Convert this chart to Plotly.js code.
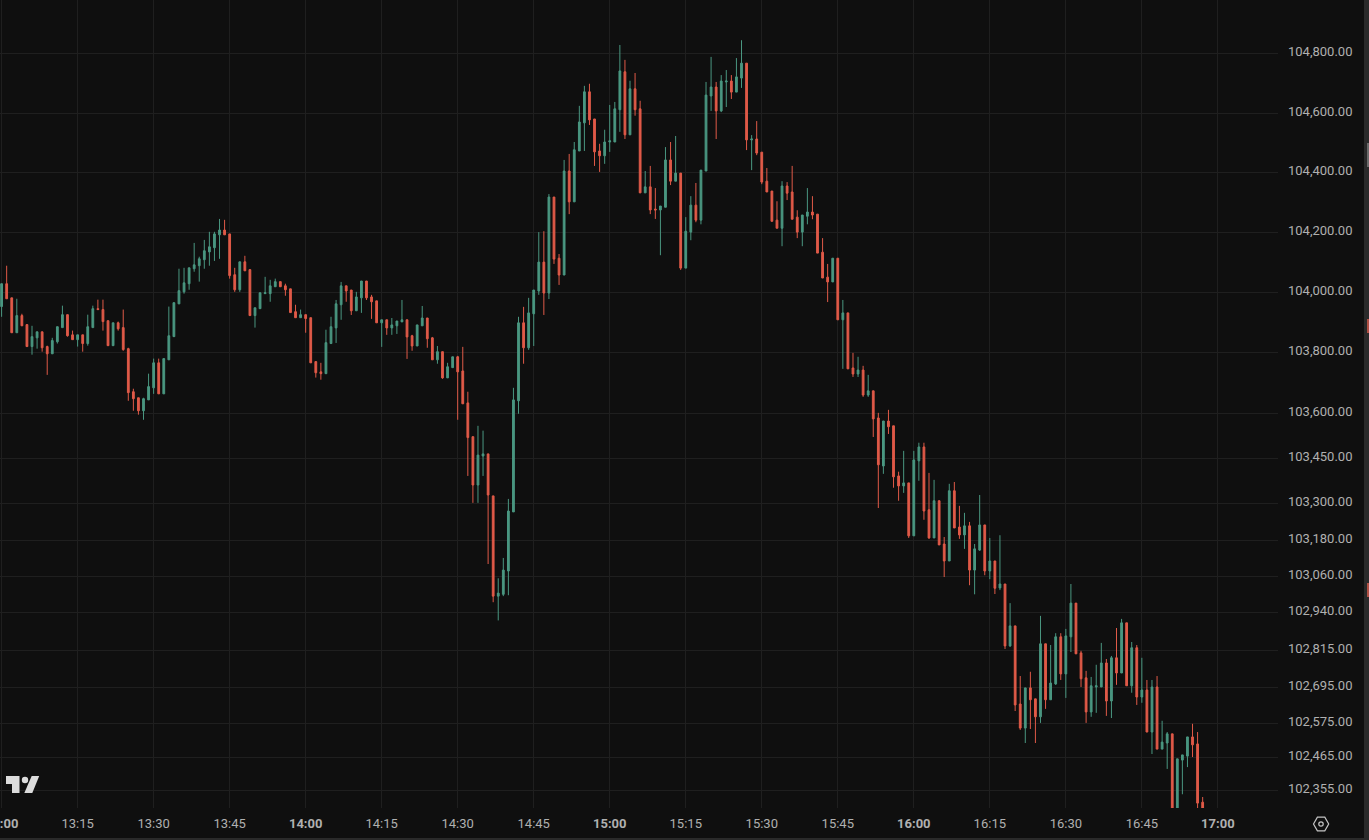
<!DOCTYPE html>
<html>
<head>
<meta charset="utf-8">
<script src="https://cdn.plot.ly/plotly-3.0.1.min.js"></script>
<style>html,body{margin:0;padding:0;background:#0f0f0f;overflow:hidden}#chart{width:1369px;height:840px}</style>
</head>
<body>
<div id="chart"></div>
<script>
const openPrices = [
103954,104030,103983,103867,103924,103894,103821,103850,103870,103821,
103797,103837,103884,103927,103860,103844,103860,103831,103884,103947,
103944,103907,103824,103900,103884,103814,103671,103651,103608,103644,
103684,103767,103664,103777,103854,103963,104003,104030,104080,104090,
104110,104136,104150,104193,104209,104196,104060,104010,104103,104077,
103924,103947,103997,103997,104020,104037,104023,104013,103937,103917,
103927,103917,103771,103737,103731,103831,103883,103960,104023,104009,
103940,103983,104039,103986,103973,103900,103910,103883,103890,103903,
103910,103857,103823,103890,103916,103850,103777,103804,103717,103751,
103787,103740,103634,103522,103362,103458,103465,103326,102995,103001,
103078,103273,103641,103900,103817,103930,104006,104102,103999,104319,
104115,104059,104406,104303,104473,104567,104671,104580,104473,104457,
104503,104503,104611,104738,104527,104681,104614,104333,104353,104279,
104276,104285,104443,104372,104399,104082,104202,104292,104242,104406,
104657,104687,104607,104704,104707,104670,104717,104767,104510,104513,
104469,104372,104339,104242,104215,104356,104336,104252,104202,104255,
104269,104262,104135,104052,104036,104115,103910,103933,103750,103730,
103743,103660,103674,103584,103425,103574,103558,103392,103359,103369,
103194,103442,103488,103280,103187,103310,103167,103111,103343,103223,
103197,103227,103081,103147,103230,103078,103111,103022,103035,102831,
102897,102640,102561,102693,102657,102598,102838,102654,102706,102861,
102739,102861,102972,102808,102726,102614,102696,102696,102775,102650,
102792,102742,102907,102700,102825,102663,102686,102548,102696,102492,
102512,102542,102285,102456,102469,102532,102509,102318];
const highPrices = [
104030,104090,103983,103980,103930,103894,103890,103870,103870,103824,
103850,103887,103957,103927,103874,103860,103860,103927,103957,103977,
103977,103907,103900,103904,103944,103817,103681,103651,103651,103731,
103781,103781,103781,103954,103967,104080,104083,104083,104166,104120,
104176,104203,104203,104246,104243,104196,104083,104103,104123,104077,
103950,104000,104053,104043,104047,104037,104030,104013,103960,103944,
103927,103917,103771,103767,103877,103920,103976,104036,104023,104009,
104003,104039,104039,103993,103973,103910,103910,103916,103906,103976,
103910,103860,103893,103956,103916,103853,103823,103804,103767,103787,
103790,103820,103671,103522,103558,103542,103465,103326,103054,103121,
103316,103684,103920,103953,103983,104009,104202,104205,104329,104319,
104129,104443,104463,104503,104624,104691,104698,104580,104497,104544,
104627,104637,104828,104778,104708,104734,104641,104406,104423,104349,
104289,104486,104503,104523,104399,104252,104322,104366,104409,104704,
104788,104704,104727,104744,104727,104784,104844,104767,104526,104573,
104469,104416,104339,104305,104372,104369,104423,104275,104259,104349,
104322,104262,104182,104096,104115,104115,103976,103933,103800,103787,
103757,103727,103674,103601,103574,103611,103558,103406,103475,103369,
103475,103502,103502,103402,103379,103310,103190,103366,103372,103293,
103270,103240,103167,103329,103230,103187,103111,103196,103035,102972,
102897,102732,102693,102746,102657,102930,102838,102834,102873,102873,
102887,103035,102972,102815,102749,102729,102769,102841,102788,102798,
102890,102920,102907,102844,102834,102792,102719,102719,102732,102585,
102548,102542,102460,102473,102532,102575,102548,102335];
const lowPrices = [
103920,103980,103867,103867,103890,103821,103794,103814,103804,103727,
103797,103831,103884,103854,103844,103821,103804,103824,103884,103944,
103874,103824,103824,103874,103807,103641,103608,103595,103578,103644,
103664,103664,103664,103777,103854,103963,103997,104010,104070,104037,
104080,104090,104106,104113,104193,104047,104003,104003,104073,103924,
103884,103947,103997,103970,104020,104020,103990,103934,103917,103917,
103867,103767,103718,103711,103731,103831,103833,103910,103970,103926,
103940,103933,103976,103913,103900,103820,103860,103860,103863,103903,
103780,103807,103823,103890,103817,103777,103764,103714,103717,103751,
103578,103631,103392,103303,103303,103392,103101,102975,102915,102995,
102998,103273,103598,103764,103810,103823,103993,103926,103979,104096,
104026,104059,104262,104303,104473,104473,104560,104423,104403,104430,
104470,104503,104537,104513,104527,104591,104333,104333,104262,104246,
104125,104285,104359,104372,104076,104082,104175,104235,104228,104406,
104607,104513,104603,104620,104647,104670,104684,104476,104409,104459,
104362,104336,104238,104215,104155,104309,104245,104182,104155,104228,
104245,104132,104049,103969,104036,103910,103747,103747,103720,103720,
103654,103654,103521,103286,103399,103531,103353,103310,103336,103187,
103194,103376,103247,103184,103187,103164,103058,103111,103220,103184,
103151,103031,103001,103144,103064,103051,103002,103015,102821,102828,
102617,102555,102512,102558,102512,102578,102624,102654,102703,102719,
102660,102811,102805,102696,102578,102598,102611,102696,102601,102594,
102703,102742,102700,102677,102637,102644,102548,102476,102492,102492,
102427,102285,102285,102344,102433,102466,102298,102295];
const closePrices = [
104030,103980,103867,103924,103890,103821,103854,103870,103817,103797,
103841,103887,103927,103857,103844,103860,103831,103887,103947,103944,
103904,103824,103900,103880,103811,103668,103648,103608,103648,103688,
103767,103664,103781,103857,103967,104007,104033,104083,104093,104113,
104140,104153,104196,104209,104193,104057,104010,104103,104073,103924,
103950,104000,104000,104023,104037,104020,104010,103934,103917,103927,
103914,103767,103734,103731,103834,103887,103963,104023,104006,103940,
103986,104039,103983,103970,103900,103910,103883,103893,103906,103910,
103853,103823,103893,103916,103847,103777,103804,103717,103754,103787,
103737,103631,103519,103362,103461,103465,103329,102995,103005,103081,
103276,103644,103900,103817,103933,104009,104102,103999,104319,104112,
104059,104406,104303,104477,104570,104671,104577,104470,104457,104503,
104507,104614,104741,104527,104681,104611,104333,104353,104276,104276,
104289,104443,104372,104399,104082,104205,104292,104242,104409,104660,
104687,104607,104707,104707,104670,104721,104767,104510,104513,104466,
104369,104336,104238,104215,104356,104332,104245,104202,104259,104269,
104259,104132,104049,104036,104115,103910,103933,103747,103730,103743,
103660,103674,103581,103429,103574,103555,103389,103359,103369,103194,
103445,103488,103276,103187,103310,103164,103111,103343,103220,103197,
103227,103081,103151,103230,103078,103111,103021,103035,102831,102897,
102637,102561,102693,102654,102598,102838,102654,102709,102861,102739,
102864,102972,102805,102723,102614,102700,102700,102775,102650,102792,
102742,102907,102700,102825,102663,102686,102548,102696,102492,102515,
102542,102285,102460,102473,102532,102506,102315,102295];

const yTickValues = [104800,104600,104400,104200,104000,103800,103600,103450,103300,103180,103060,102940,102815,102695,102575,102465,102355];
const yTickLabels = ["104,800.00","104,600.00","104,400.00","104,200.00","104,000.00","103,800.00","103,600.00","103,450.00","103,300.00","103,180.00","103,060.00","102,940.00","102,815.00","102,695.00","102,575.00","102,465.00","102,355.00"];
const xTickTimes = ["13:00","13:15","13:30","13:45","14:00","14:15","14:30","14:45","15:00","15:15","15:30","15:45","16:00","16:15","16:30","16:45","17:00"];
const xTickLabels = ["<b>13:00</b>","13:15","13:30","13:45","<b>14:00</b>","14:15","14:30","14:45","<b>15:00</b>","15:15","15:30","15:45","<b>16:00</b>","16:15","16:30","16:45","<b>17:00</b>"];

const day = "2025-01-01 ";
const pad = n => String(n).padStart(2, "0");
const times = openPrices.map((_, i) => { const m = 13 * 60 + i; return day + pad(Math.floor(m / 60)) + ":" + pad(m % 60) + ":00"; });

const BG = "#0f0f0f", UP = "#4a9781", DOWN = "#e05a48", GRID = "#1f1f1f", TEXT = "#b0b0b0";
const plotW = 1278, plotH = 808;
const px = x => x / plotW, py = y => (plotH - y) / plotH;
const poly = pts => "M" + pts.map(p => px(p[0]) + "," + py(p[1])).join("L") + "Z";
const paper = { xref: "paper", yref: "paper" };
const fillShape = (path, color) => ({ ...paper, type: "path", path, fillcolor: color, line: { width: 0 }, layer: "above" });
const rectShape = (x0, y0, x1, y1, color) => ({ ...paper, type: "rect", x0: px(x0), x1: px(x1), y0: py(y0), y1: py(y1), fillcolor: color, line: { width: 0 }, layer: "above" });
const hex = [[1313.5, 824], [1317.4, 817.2], [1324.8, 817.2], [1328.7, 824], [1324.8, 830.8], [1317.4, 830.8]];

const shapes = [
  fillShape(poly([[6, 776], [19.5, 776], [19.5, 793], [12, 793], [12, 784], [6, 784]]), "#dcdcdc"),
  fillShape(poly([[31.7, 776], [39.2, 776], [32.3, 793], [24.3, 793]]), "#dcdcdc"),
  { ...paper, type: "circle", x0: px(21.8), x1: px(28.2), y0: py(783.2), y1: py(776.8), fillcolor: "#dcdcdc", line: { width: 0 }, layer: "above" },
  { ...paper, type: "path", path: poly(hex), fillcolor: "rgba(0,0,0,0)", line: { color: "#c4c4c4", width: 1.2 }, layer: "above" },
  { ...paper, type: "circle", x0: px(1318.8), x1: px(1323.2), y0: py(826.2), y1: py(821.8), fillcolor: "rgba(0,0,0,0)", line: { color: "#c4c4c4", width: 1.2 }, layer: "above" },
  rectShape(1364, 0, 1369, 840, "#2a2a2a"),
  rectShape(0, 838, 1369, 840, "#2a2a2a"),
  rectShape(1367, 143, 1369, 167, "#6a6a6a"),
  rectShape(1367, 319, 1369, 333, "#b05044"),
  rectShape(1367, 583, 1369, 597, "#b05044")
];

const trace = {
  type: "candlestick",
  x: times, open: openPrices, high: highPrices, low: lowPrices, close: closePrices,
  increasing: { line: { color: UP, width: 1 }, fillcolor: UP },
  decreasing: { line: { color: DOWN, width: 1 }, fillcolor: DOWN },
  whiskerwidth: 0,
  hoverinfo: "skip"
};

const layout = {
  width: 1369, height: 840,
  margin: { l: 0, r: 91, t: 0, b: 32, pad: 0 },
  paper_bgcolor: BG, plot_bgcolor: BG,
  showlegend: false,
  boxgap: 0.5,
  shapes,
  font: { family: "Roboto, 'Liberation Sans', sans-serif", size: 13, color: TEXT },
  xaxis: {
    type: "date",
    range: [day + "12:59:41", day + "17:11:52"],
    rangeslider: { visible: false },
    tickmode: "array",
    tickvals: xTickTimes.map(t => day + t + ":00"),
    ticktext: xTickLabels,
    tickangle: 0,
    ticks: "", ticklen: 0,
    ticklabelstandoff: 6,
    ticklabeloverflow: "allow",
    showgrid: true, gridcolor: GRID, gridwidth: 1,
    zeroline: false, showline: false, fixedrange: true,
    tickfont: { family: "Roboto, 'Liberation Sans', sans-serif", size: 13, color: TEXT }
  },
  yaxis: {
    type: "log",
    side: "right",
    range: [Math.log10(102299), Math.log10(104979)],
    tickmode: "array",
    tickvals: yTickValues,
    ticktext: yTickLabels,
    ticks: "", ticklen: 0,
    ticklabelstandoff: 9,
    ticklabelshift: -2,
    ticklabeloverflow: "allow",
    showgrid: true, gridcolor: GRID, gridwidth: 1,
    zeroline: false, showline: false, fixedrange: true,
    tickfont: { family: "Roboto, 'Liberation Sans', sans-serif", size: 13, color: TEXT }
  }
};

Plotly.newPlot("chart", [trace], layout, { displayModeBar: false, responsive: false, staticPlot: true });
</script>
</body>
</html>
